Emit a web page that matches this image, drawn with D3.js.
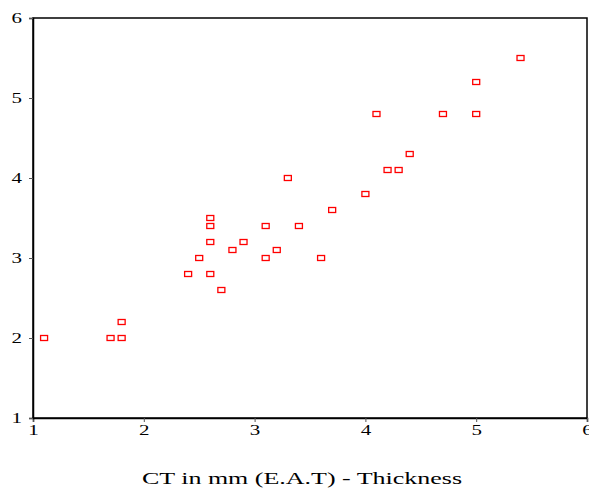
<!DOCTYPE html>
<html>
<head>
<meta charset="utf-8">
<script src="https://cdn.jsdelivr.net/npm/d3@7"></script>
<style>
  body { margin: 0; background: #fff; }
</style>
</head>
<body>
<div id="chart"></div>
<script>
// CT thickness vs. second measure
const thickness = [1.1, 1.7, 1.8, 1.8, 2.4, 2.5, 2.6, 2.6, 2.6, 2.6, 2.7, 2.8, 2.9, 3.1, 3.1, 3.2, 3.3, 3.4, 3.6, 3.7, 4.0, 4.1, 4.2, 4.3, 4.4, 4.7, 5.0, 5.0, 5.4];
const measured  = [2.0, 2.0, 2.0, 2.2, 2.8, 3.0, 2.8, 3.2, 3.4, 3.5, 2.6, 3.1, 3.2, 3.0, 3.4, 3.1, 4.0, 3.4, 3.0, 3.6, 3.8, 4.8, 4.1, 4.1, 4.3, 4.8, 4.8, 5.2, 5.5];
const xTicks = [1, 2, 3, 4, 5, 6];
const yTicks = [1, 2, 3, 4, 5, 6];
const xTitle = 'CT in mm (E.A.T) - Thickness';

const serif = '"Liberation Serif", "Times New Roman", "DejaVu Serif", serif';
const stretch = 1.4;

let width = 589, height = 488;
let margin = {top: 18, right: 2, bottom: 70, left: 33};

let svg = d3.select('#chart').append('svg').
    attr('width', width).attr('height', height).
    style('font-family', serif);

let x = d3.scaleLinear().domain([1, 6]).range([margin.left, width - margin.right]);
let y = d3.scaleLinear().domain([1, 6]).range([height - margin.bottom, margin.top]);

// frame
svg.append('rect').
    attr('x', x(1)).attr('y', y(6)).
    attr('width', x(6) - x(1)).attr('height', y(1) - y(6)).
    attr('fill', 'none').attr('stroke', '#000').attr('stroke-width', 1.5);

let xAxis = svg.append('g').
    attr('transform', 'translate(0,' + y(1) + ')').
    call(d3.axisBottom(x).tickValues(xTicks).tickSize(4).tickPadding(2).tickFormat(d3.format('d')));
let yAxis = svg.append('g').
    attr('transform', 'translate(' + x(1) + ',0)').
    call(d3.axisLeft(y).tickValues(yTicks).tickSize(4).tickPadding(6).tickFormat(d3.format('d')));

[xAxis, yAxis].forEach(function(g){
    g.attr('font-size', 15).style('font-family', serif);
    g.select('.domain').attr('stroke-width', 1.5);
    g.selectAll('.tick line').attr('stroke', '#555');
    g.selectAll('text').attr('fill', '#000');
});
// the reference glyphs are wider than they are tall
xAxis.selectAll('.tick text').attr('y', 6).attr('transform', 'scale(' + stretch + ',1)');
yAxis.selectAll('.tick text').attr('x', -11 / stretch).attr('transform', 'scale(' + stretch + ',1)');

svg.append('text').
    attr('x', 302).attr('y', 484).
    attr('text-anchor', 'middle').attr('font-size', 16).
    attr('textLength', 320).attr('lengthAdjust', 'spacingAndGlyphs').
    text(xTitle);

let points = thickness.map((t, i) => ({t: t, m: measured[i]}));
svg.selectAll('rect.pt').
    data(points).
    enter().
    append('rect').
    attr('class', 'pt').
    attr('x', d => x(d.t) - 3.5).
    attr('y', d => y(d.m) - 2.5).
    attr('width', 7).attr('height', 5).
    attr('fill', '#fff').attr('stroke', '#ff0000').attr('stroke-width', 1.3);
</script>
</body>
</html>
